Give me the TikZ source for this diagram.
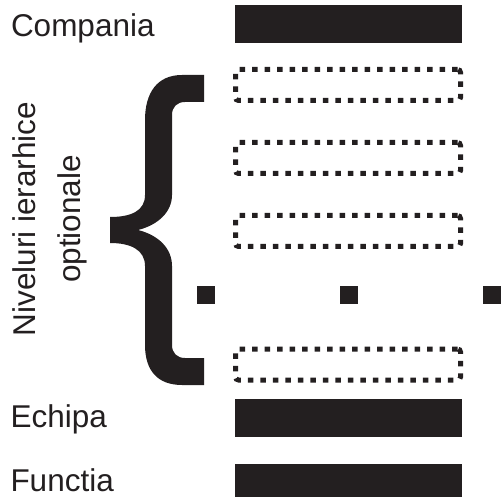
\documentclass[tikz,border=0pt]{standalone}
\usepackage{fontspec}
\setmainfont{Liberation Sans}
\definecolor{ink}{HTML}{231F20}
\begin{document}
\begin{tikzpicture}[x=1pt,y=-1pt,
  lbl/.style={inner sep=0pt, outer sep=0pt, text=ink, font=\fontsize{31.5}{36}\selectfont},
  bar/.style={fill=ink, draw=none, inner sep=0pt, outer sep=0pt, minimum width=227pt, minimum height=38pt, anchor=north west},
  optbox/.style={draw=ink, line width=5pt, dash pattern=on 5.5pt off 7pt, rounded corners=3pt, inner sep=0pt, minimum width=225pt, minimum height=31pt},
  sq/.style={fill=ink, draw=none, inner sep=0pt, minimum size=18pt}]
\useasboundingbox (0,0) rectangle (501,497);
% labels
\node[lbl, anchor=base west] (tcomp) at (11,37) {Compania};
\node[lbl, anchor=base west] (tech) at (10.5,427) {Echipa};
\node[lbl, anchor=base west] (tfun) at (10.5,491) {Functia};
\node[lbl, anchor=base, rotate=90] (tniv) at (35,219) {Niveluri ierarhice};
\node[lbl, anchor=base, rotate=90] (topt) at (80,219) {optionale};
% bars
\node[bar] (comp) at (235,5) {};
\node[bar] (ech) at (235,399) {};
\node[bar, minimum height=33pt] (fun) at (235,464) {};
% optional levels
\node[optbox] (o1) at (348,85) {};
\node[optbox] (o2) at (348,158) {};
\node[optbox] (o3) at (348,231) {};
\node[optbox] (o4) at (348,364.5) {};
% dots
\node[sq] (d1) at (206,295) {};
\node[sq] (d2) at (349,295) {};
\node[sq] (d3) at (492,295) {};
% brace
\fill[ink] (204,75) -- (182,75) .. controls (157,75) and (145,93) .. (145,120)
  -- (145,195) .. controls (145,211) and (131,217) .. (110,217)
  -- (110,243) .. controls (131,243) and (145,250) .. (145,266)
  -- (145,345) .. controls (145,371) and (158,385) .. (182,385)
  -- (204,385) -- (204,358) -- (185,358) .. controls (177,358) and (172,353) .. (172,345)
  -- (172,266) .. controls (172,248) and (158,235) .. (138,230)
  .. controls (158,225) and (172,212) .. (172,195)
  -- (172,115) .. controls (172,107) and (177,102) .. (185,102)
  -- (204,102) -- cycle;
\end{tikzpicture}
\end{document}
